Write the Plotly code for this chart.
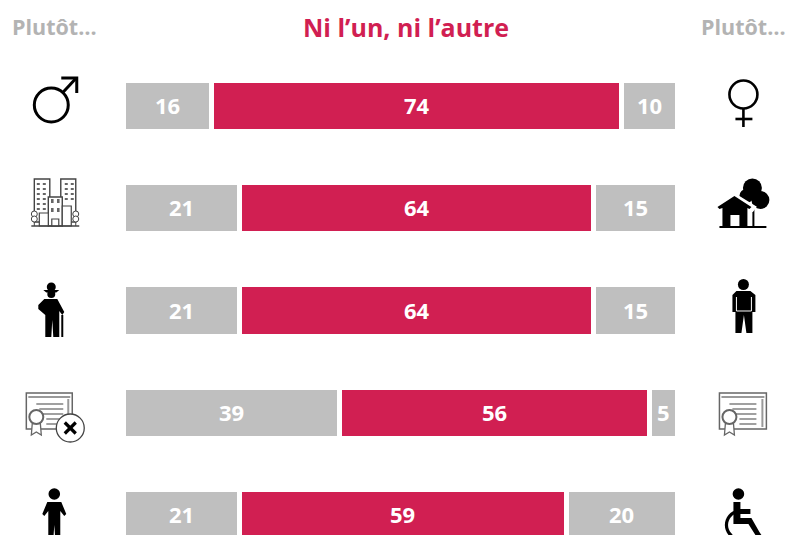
import math
import plotly.graph_objects as go

rows = ["Sexe", "Lieu de vie", "Âge", "Diplôme", "Handicap"]
plutot_gauche = [16, 21, 21, 39, 21]
ni_l_un_ni_l_autre = [74, 64, 64, 56, 59]
plutot_droite = [10, 15, 15, 5, 20]

GRIS = "#BFBFBF"
ROUGE = "#D11F52"
FONT = "Open Sans"
W, H = 788, 535
L, R, T, B = 122.8, 110.5, 55, 0
PW, PH = W - L - R, H - T - B

fig = go.Figure()
for vals, col in [(plutot_gauche, GRIS), (ni_l_un_ni_l_autre, ROUGE), (plutot_droite, GRIS)]:
    fig.add_trace(go.Bar(
        y=list(range(len(rows))), x=vals, orientation="h", width=0.5,
        marker=dict(color=col, line=dict(color="white", width=5)),
        hoverinfo="skip", showlegend=False,
    ))

# value labels, placed from the data on the axes
for i in range(len(rows)):
    start = 0
    for vals in (plutot_gauche, ni_l_un_ni_l_autre, plutot_droite):
        v = vals[i]
        fig.add_annotation(x=start + v / 2, y=i, xref="x", yref="y", text=str(v), showarrow=False,
                           yshift=1, xanchor="center", yanchor="middle",
                           font=dict(family=FONT, size=22, color="white", weight="bold"))
        start += v

# --- pictogram helpers (page pixels -> paper coordinates) ---
def px(x): return (x - L) / PW
def py(y): return 1 - (y - T) / PH
shapes = []
def path(pts, close=False, fill=None, lc="black", lw=0):
    d = "M" + " L".join(f"{px(x):.5f},{py(y):.5f}" for x, y in pts) + (" Z" if close else "")
    shapes.append(dict(type="path", xref="paper", yref="paper", path=d, layer="above",
                       fillcolor=fill if fill else "rgba(0,0,0,0)",
                       line=dict(color=lc, width=lw)))
def line(x0, y0, x1, y1, lw=2, lc="black"):
    path([(x0, y0), (x1, y1)], lc=lc, lw=lw)
def circ(cx, cy, r, fill=None, lc="black", lw=0):
    shapes.append(dict(type="circle", xref="paper", yref="paper", layer="above",
                       x0=px(cx - r), x1=px(cx + r), y0=py(cy + r), y1=py(cy - r),
                       fillcolor=fill if fill else "rgba(0,0,0,0)",
                       line=dict(color=lc, width=lw)))
def rect(x0, y0, x1, y1, fill=None, lc="black", lw=0):
    path([(x0, y0), (x1, y0), (x1, y1), (x0, y1)], close=True, fill=fill, lc=lc, lw=lw)

# male
circ(51, 105, 17, lc="black", lw=3)
line(63, 92, 76, 78, 3)
path([(61, 78), (76.5, 78), (76.5, 93)], lc="black", lw=3)
# female
circ(744, 94.5, 14, lc="black", lw=2.6)
line(744, 109, 744, 127, 2.6)
line(736, 119, 753, 119, 2.6)

# city
G = "#444444"
rect(34, 179, 49.5, 222, fill="white", lc=G, lw=1.4)
rect(60.5, 179, 75.5, 222, fill="white", lc=G, lw=1.4)
rect(48, 197, 62, 226, fill="white", lc=G, lw=1.4)
rect(39, 213, 48, 226, fill="white", lc=G, lw=1.2)
rect(62, 206, 71, 226, fill="white", lc=G, lw=1.2)
for cx, ys in [(38, (184, 189, 194, 199, 204, 209)), (44, (184, 189, 194, 199, 204, 209)),
               (66, (184, 189, 194, 199)), (72, (184, 189, 194, 199))]:
    for y in ys:
        rect(cx - 1.5, y - 1, cx + 1.5, y + 1, fill="#666666")
for cx in (52, 58):
    for y in (201, 210):
        rect(cx - 1.3, y - 2, cx + 1.3, y + 2, fill="#666666")
rect(51.5, 219, 58.5, 226, fill="white", lc=G, lw=1.2)
for cx in (34, 75.5):
    circ(cx, 214, 3, fill="white", lc=G, lw=1)
    circ(cx, 219, 3, fill="white", lc=G, lw=1)
    line(cx, 222, cx, 226, 1, G)
line(31, 226, 79, 226, 1.4, G)

# house & tree
circ(753, 188, 9.5, fill="black")
circ(761, 200, 9, fill="black")
circ(747, 196, 7, fill="black")
line(754, 203, 754, 226, 2)
path([(735, 194), (756, 207), (753, 211), (715, 211)], close=True, fill="white", lc="white", lw=2)
path([(735, 196), (752, 207), (750, 209), (748, 208), (748, 226), (723, 226), (723, 208), (720, 209), (718, 207)],
     close=True, fill="black")
rect(731, 215, 740, 226, fill="white")
line(720, 227, 767, 227, 2)

# old man
circ(51, 287, 4.5, fill="black")
path([(43, 290), (59, 290), (56, 292.5), (46, 292.5)], close=True, fill="black")
circ(51, 294, 4, fill="black")
path([(44, 299), (57, 299), (64, 312), (62, 315), (59, 311), (59, 337), (53, 337), (52, 320), (51, 337),
      (45, 337), (45, 315), (38, 309), (38, 305)], close=True, fill="black")
line(62, 315, 62, 337, 2)

# standing man (right)
circ(744, 284.5, 5.5, fill="black")
path([(737, 291), (751, 291), (756, 295), (756, 312), (753, 312), (753, 333), (747, 333), (744.5, 315),
      (742, 333), (736, 333), (736, 312), (733, 312), (733, 295)], close=True, fill="black")
line(737, 297, 737, 311, 1, "white")
line(752, 297, 752, 311, 1, "white")
line(737, 311, 752, 311, 1, "white")

# certificates
def cert(x0, x1):
    C = "#666666"
    rect(x0, 393, x1, 429, fill="white", lc=C, lw=1.5)
    line(x0 + 2, 397, x1 - 2, 397, 2, "#999999")
    line(x1 - 4, 399, x1 - 4, 427, 2, "#999999")
    for y, a, b in [(404, 10, 37), (409, 13, 37), (414, 16, 37), (419, 20, 37), (424, 20, 37)]:
        line(x0 + a, y, x0 + b, y, 1.4, "#777777")
    path([(x0 + 6, 423), (x0 + 5, 435), (x0 + 10, 432), (x0 + 15, 435), (x0 + 14, 423)],
         close=True, fill="white", lc=C, lw=1.3)
    circ(x0 + 10, 417, 7, fill="white", lc=C, lw=2)
cert(26, 72)
cert(720, 767)
circ(70, 428, 14, fill="white", lc="#444444", lw=1.3)
line(64.5, 422.5, 75.5, 433.5, 3.2)
line(75.5, 422.5, 64.5, 433.5, 3.2)

# man (bottom left)
circ(54, 494, 5.8, fill="black")
path([(47, 502), (61, 502), (66, 514), (64, 516), (60, 511), (60, 540), (55, 540), (54, 525), (53, 540),
      (48, 540), (48, 511), (44, 516), (42, 514)], close=True, fill="black")

# wheelchair
circ(739, 494, 5.8, fill="black")
path([(734, 502), (741, 502), (741, 509), (751, 509), (751, 514), (741, 514), (741, 518), (752, 518),
      (760, 532), (762, 535), (756, 535), (749, 524), (734, 524)], close=True, fill="black")
t = [math.radians(a) for a in range(110, 235, 10)]
path([(741 + 14 * math.cos(a), 525 - 14 * math.sin(a)) for a in t], lc="black", lw=3.2)

def label(x, y, text, size, color):
    fig.add_annotation(x=px(x), y=py(y), xref="paper", yref="paper", text=text, showarrow=False,
                       xanchor="center", yanchor="middle",
                       font=dict(family=FONT, size=size, color=color, weight="bold"))
label(54.5, 27, "Plutôt…", 21.5, "#B3B3B3")
label(744, 27, "Plutôt…", 21.5, "#B3B3B3")
label(406.5, 27, "Ni l’un, ni l’autre", 25, ROUGE)

fig.update_layout(
    width=W, height=H, barmode="stack", bargap=0.5,
    margin=dict(l=L, r=R, t=T, b=B, autoexpand=False),
    paper_bgcolor="white", plot_bgcolor="white", shapes=shapes,
    xaxis=dict(range=[0, 100], visible=False, fixedrange=True),
    yaxis=dict(range=[4.196, -0.5], visible=False, fixedrange=True),
)
fig.write_html("out.html", config=dict(displayModeBar=False),
               default_width=f"{W}px", default_height=f"{H}px",
               post_script="document.body.style.margin='0';document.documentElement.style.overflow='hidden';")
